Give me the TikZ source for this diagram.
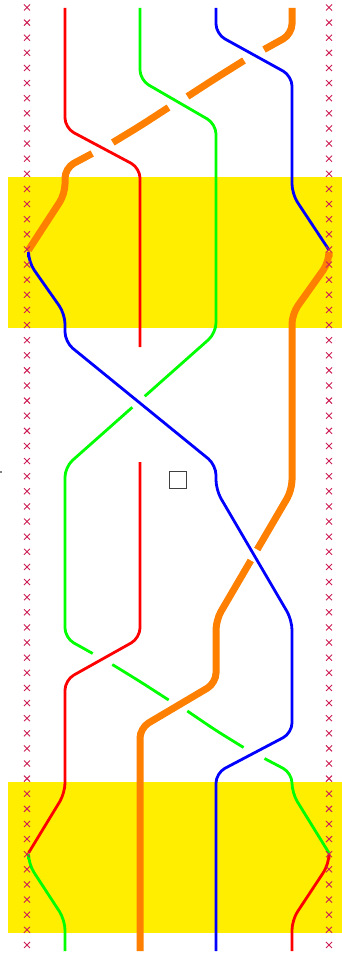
\documentclass[tikz,border=0pt]{standalone}
\definecolor{bandyellow}{RGB}{255,238,0}
\definecolor{xcol}{RGB}{205,30,85}
\definecolor{sred}{RGB}{255,0,0}
\definecolor{sgreen}{RGB}{0,255,0}
\definecolor{sblue}{RGB}{0,0,255}
\definecolor{sorange}{RGB}{255,128,0}
\begin{document}
\begin{tikzpicture}[x=1pt,y=-1pt,
  strand/.style={line width=2.8pt, rounded corners=10pt},
  thickstrand/.style={line width=7pt, rounded corners=10pt},
  band/.style={fill=bandyellow, draw=none},
  xmark/.style={draw=xcol, line width=0.9pt},
  box/.style={draw=black!75, line width=1.2pt, minimum size=17pt, inner sep=0pt}]
\useasboundingbox (0,0) rectangle (342,955);
% floors
\fill[band] (8,177) rectangle (342,328);
\fill[band] (8,782) rectangle (342,933);
% green (under everything)
\draw[strand, sgreen] (140,8) -- (140,80) -- (216,124) -- (216,333) -- (144.7,396.3);
\draw[strand, sgreen] (132.3,407.3) -- (65,467) -- (65,638) -- (92.7,653.5);
\draw[strand, sgreen] (112.3,664.5) -- (140,681.5) -- (168.7,700);
\draw[strand, sgreen] (187.3,711) -- (216,730.5) -- (243.6,747.5);
\draw[strand, sgreen] (264.5,758.5) -- (292,773) -- (292,793) -- (329,853);
\draw[strand, sgreen] (28.5,859) -- (28.5,864) -- (65,920) -- (65,951);
% orange
\draw[thickstrand, sorange] (292,8) -- (292,34) -- (264,49.5);
\draw[thickstrand, sorange] (244,60.5) -- (216,78) -- (187.5,96.5);
\draw[thickstrand, sorange] (168.5,107.5) -- (140,126) -- (112.8,142.5);
\draw[thickstrand, sorange] (92.2,153.5) -- (65,168) -- (65,194) -- (28.5,250);
\draw[thickstrand, sorange] (329,257) -- (329,262) -- (292,314) -- (292,490) -- (257.2,549.5);
\draw[thickstrand, sorange] (250.8,560.5) -- (216,620) -- (216,683) -- (140,728) -- (140,951);
% red
\draw[strand, sred] (65,8) -- (65,128) -- (140,168) -- (140,347);
\draw[strand, sred] (140,462) -- (140,638) -- (65,680) -- (65,793) -- (28.5,853);
\draw[strand, sred] (329,859) -- (329,864) -- (292,920) -- (292,951);
% blue
\draw[strand, sblue] (216,8) -- (216,34) -- (292,76) -- (292,194) -- (329,250);
\draw[strand, sblue] (28.5,257) -- (28.5,262) -- (65,314) -- (65,342) -- (216,465) -- (216,490) -- (292,620) -- (292,733) -- (216,773) -- (216,951);
% marks
\foreach \k in {0,...,62}{
  \pgfmathsetmacro\yy{7.5+15.12*\k}
  \draw[xmark] (27,\yy) +(-3,-3) -- +(3,3) +(-3,3) -- +(3,-3);
  \draw[xmark] (329,\yy) +(-3,-3) -- +(3,3) +(-3,3) -- +(3,-3);
}
\node[box] (sq) at (178,480) {};
\fill (1,472) circle (0.8);
\end{tikzpicture}
\end{document}
